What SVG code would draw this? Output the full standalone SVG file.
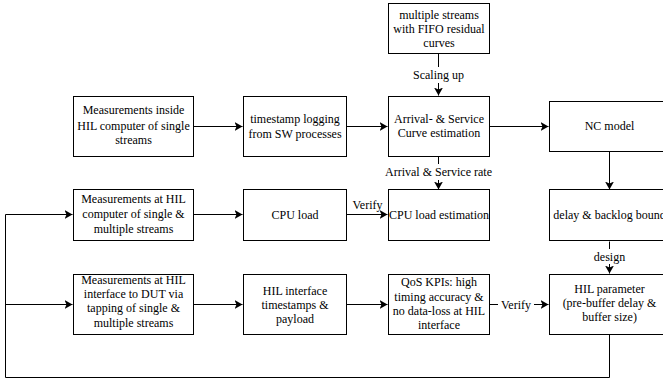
<svg xmlns="http://www.w3.org/2000/svg" width="663" height="383" viewBox="0 0 663 383" font-family="'Liberation Serif', 'Times New Roman', serif" font-size="12">
<defs>
<marker id="arr" markerUnits="userSpaceOnUse" markerWidth="10" markerHeight="10" refX="8" refY="4.5" orient="auto">
<path d="M0,0 L8,4.5 L0,9 L2,4.5 z" fill="#000"/>
</marker>
<style>
rect.n{fill:#fff;stroke:#000;stroke-width:1}
text{font-family:'Liberation Serif','Times New Roman',serif;font-size:12px;fill:#000;text-anchor:middle}
.c{fill:none;stroke:#000;stroke-width:1}
.a{marker-end:url(#arr)}
rect.bg{fill:#fff;stroke:none}
</style>
</defs>
<g id="connectors">
<path class="c a" d="M193.5,126.5 H242.5"/>
<path class="c a" d="M346.5,126.5 H387.5"/>
<path class="c a" d="M489.5,126.5 H548.5"/>
<path class="c a" d="M438.5,53.5 V95.5"/>
<path class="c a" d="M438.5,156.5 V189.5"/>
<path class="c a" d="M609.5,151.5 V189.5"/>
<path class="c a" d="M609.5,241.5 V273.5"/>
<path class="c a" d="M193.5,214.5 H242.5"/>
<path class="c a" d="M346.5,214.5 H387.5"/>
<path class="c a" d="M193.5,304.5 H242.5"/>
<path class="c a" d="M346.5,304.5 H387.5"/>
<path class="c a" d="M489.5,304.5 H548.5"/>
<path class="c a" d="M609.5,334.5 V377.5 H5.5 V214.5 H72.5"/>
<path class="c a" d="M5.5,304.5 H72.5"/>
<rect class="bg" x="411" y="67" width="55" height="16"/>
<text x="438.5" y="79">Scaling up</text>
<rect class="bg" x="383" y="164" width="111" height="16"/>
<text x="438.5" y="176">Arrival &amp; Service rate</text>
<text x="367.5" y="209">Verify</text>
<rect class="bg" x="498" y="297" width="36" height="16"/>
<text x="516" y="308.5">Verify</text>
<rect class="bg" x="591" y="249" width="37" height="15"/>
<text x="609.5" y="261">design</text>
</g>
<g id="top">
<rect class="n" x="388.5" y="3.5" width="101" height="50"/>
<text x="439" y="19">multiple streams</text>
<text x="439" y="33">with FIFO residual</text>
<text x="439" y="47">curves</text>
</g>
<g id="meas1">
<rect class="n" x="73.5" y="96.5" width="120" height="60"/>
<text x="133.5" y="114">Measurements inside</text>
<text x="133.5" y="130">HIL computer of single</text>
<text x="133.5" y="144">streams</text>
</g>
<g id="timestamp">
<rect class="n" x="243.5" y="96.5" width="103" height="60"/>
<text x="295" y="123">timestamp logging</text>
<text x="295" y="138">from SW processes</text>
</g>
<g id="arrival">
<rect class="n" x="388.5" y="96.5" width="101" height="60"/>
<text x="439" y="123">Arrival- &amp; Service</text>
<text x="439" y="137">Curve estimation</text>
</g>
<g id="nc">
<rect class="n" x="549.5" y="101.5" width="120" height="50"/>
<text x="609.5" y="130">NC model</text>
</g>
<g id="meas2">
<rect class="n" x="73.5" y="189.5" width="120" height="51"/>
<text x="133.5" y="203">Measurements at HIL</text>
<text x="133.5" y="218">computer of single &amp;</text>
<text x="133.5" y="233">multiple streams</text>
</g>
<g id="cpu">
<rect class="n" x="243.5" y="189.5" width="103" height="51"/>
<text x="295" y="218.5">CPU load</text>
</g>
<g id="cpuest">
<rect class="n" x="388.5" y="189.5" width="101" height="51"/>
<text x="439" y="218.5">CPU load estimation</text>
</g>
<g id="delay">
<rect class="n" x="549.5" y="189.5" width="120" height="51"/>
<text x="609.5" y="218.5">delay &amp; backlog bound</text>
</g>
<g id="meas3">
<rect class="n" x="73.5" y="274.5" width="120" height="60"/>
<text x="133.5" y="284">Measurements at HIL</text>
<text x="133.5" y="298">interface to DUT via</text>
<text x="133.5" y="312">tapping of single &amp;</text>
<text x="133.5" y="327">multiple streams</text>
</g>
<g id="hilif">
<rect class="n" x="243.5" y="274.5" width="103" height="60"/>
<text x="295" y="295">HIL interface</text>
<text x="295" y="309">timestamps &amp;</text>
<text x="295" y="323">payload</text>
</g>
<g id="qos">
<rect class="n" x="388.5" y="274.5" width="101" height="60"/>
<text x="439" y="286">QoS KPIs: high</text>
<text x="439" y="300.5">timing accuracy &amp;</text>
<text x="439" y="315">no data-loss at HIL</text>
<text x="439" y="329">interface</text>
</g>
<g id="hilparam">
<rect class="n" x="549.5" y="274.5" width="120" height="60"/>
<text x="609.5" y="293">HIL parameter</text>
<text x="609.5" y="307">(pre-buffer delay &amp;</text>
<text x="609.5" y="321">buffer size)</text>
</g>
</svg>
